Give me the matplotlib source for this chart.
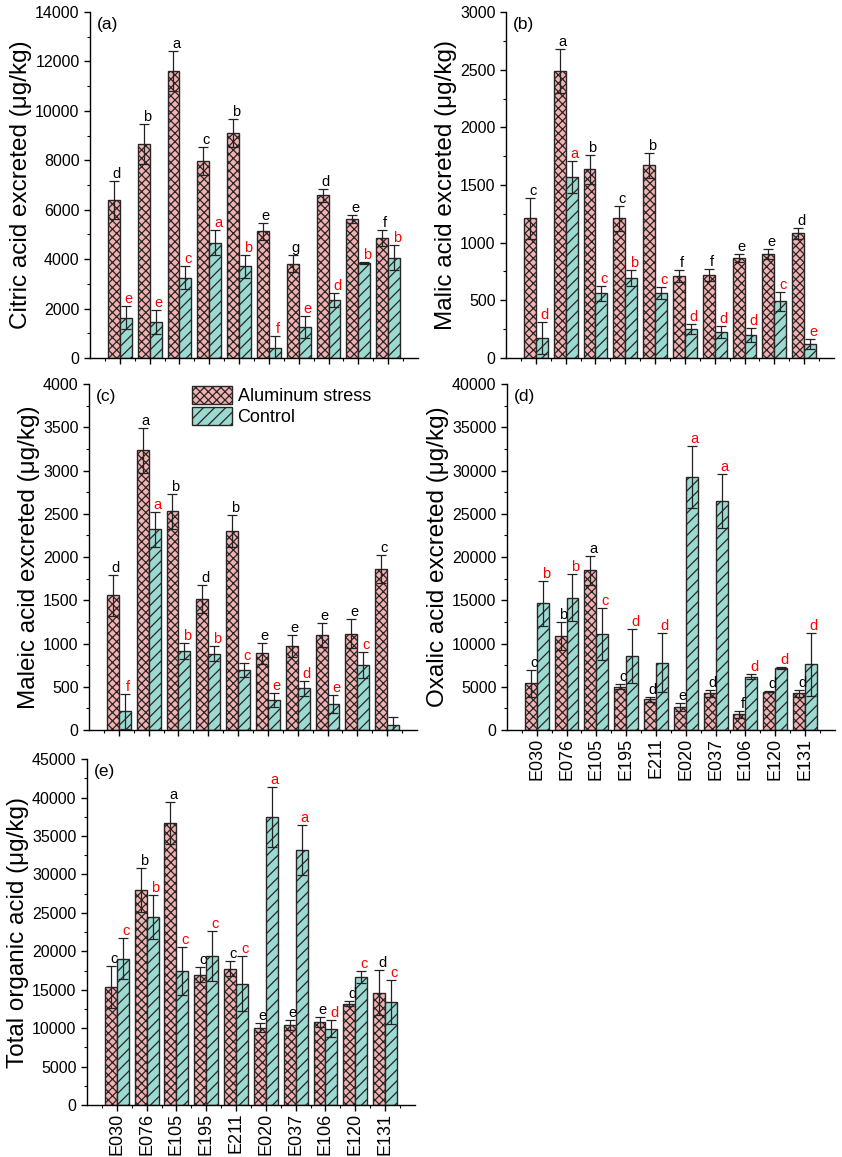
import numpy as np
import matplotlib
matplotlib.use("Agg")
import matplotlib.pyplot as plt
from matplotlib.ticker import MultipleLocator, FixedLocator

plt.rcParams['font.family'] = ['Liberation Sans', 'DejaVu Sans']
plt.rcParams['hatch.linewidth'] = 0.9
plt.rcParams['axes.linewidth'] = 1.0

genotypes = ["E030", "E076", "E105", "E195", "E211", "E020", "E037", "E106", "E120", "E131"]

# (a) citric acid
citric_al = [6410, 8670, 11610, 7970, 9120, 5120, 3820, 6580, 5610, 4870]
citric_al_err = [770, 800, 810, 570, 570, 340, 340, 270, 160, 320]
citric_al_let = ["d", "b", "a", "c", "b", "e", "g", "d", "e", "f"]
citric_ck = [1630, 1460, 3250, 4670, 3710, 400, 1250, 2360, 3840, 4060]
citric_ck_err = [470, 470, 470, 520, 470, 470, 430, 280, 40, 500]
citric_ck_let = ["e", "e", "c", "a", "b", "f", "e", "d", "b", "b"]

# (b) malic acid
malic_al = [1210, 2490, 1635, 1210, 1670, 713, 720, 870, 900, 1080]
malic_al_err = [175, 190, 125, 110, 110, 50, 50, 35, 45, 45]
malic_al_let = ["c", "a", "b", "c", "b", "f", "f", "e", "e", "d"]
malic_ck = [173, 1572, 563, 692, 563, 251, 225, 202, 490, 121]
malic_ck_err = [135, 140, 65, 70, 55, 45, 50, 60, 85, 45]
malic_ck_let = ["d", "a", "c", "b", "c", "d", "d", "d", "c", "e"]

# (c) maleic acid
maleic_al = [1557, 3237, 2528, 1518, 2301, 886, 971, 1095, 1114, 1865]
maleic_al_err = [240, 260, 200, 165, 180, 120, 125, 140, 165, 165]
maleic_al_let = ["d", "a", "b", "d", "b", "e", "e", "e", "e", "c"]
maleic_ck = [216, 2320, 917, 883, 698, 351, 482, 297, 748, 54]
maleic_ck_err = [205, 205, 95, 85, 80, 80, 90, 105, 150, 95]
maleic_ck_let = ["f", "a", "b", "b", "c", "e", "d", "e", "c", ""]

# (d) oxalic acid
oxalic_al = [5400, 10900, 18460, 5010, 3550, 2700, 4240, 1810, 4430, 4240]
oxalic_al_err = [1540, 1620, 1700, 300, 300, 460, 380, 420, 80, 380]
oxalic_al_let = ["c", "b", "a", "c", "d", "e", "d", "f", "d", "d"]
oxalic_ck = [14650, 15300, 11060, 8560, 7790, 29290, 26520, 6170, 7210, 7590]
oxalic_ck_err = [2620, 2740, 3000, 3120, 3390, 3580, 3120, 270, 100, 3660]
oxalic_ck_let = ["b", "b", "c", "d", "d", "a", "a", "d", "d", "d"]

# (e) total organic acid
total_al = [15360, 28000, 36690, 16960, 17740, 10080, 10470, 10820, 13200, 14630]
total_al_err = [2680, 2860, 2680, 1000, 1000, 600, 650, 650, 350, 2900]
total_al_let = ["c", "b", "a", "c", "c", "e", "e", "e", "d", "d"]
total_ck = [19040, 24450, 17440, 19390, 15790, 37430, 33230, 9950, 16660, 13410]
total_ck_err = [2680, 2900, 3110, 3250, 3590, 3900, 3250, 1080, 780, 2900]
total_ck_let = ["c", "b", "c", "c", "c", "a", "a", "d", "c", "c"]

pink = "#f0b2b2"
teal = "#9bdad1"
edge = "#2a2424"
wbar = 0.4

fig = plt.figure(figsize=(8.42, 11.57), dpi=100)

panels = [
    # left, bottom, ymax, ystep, label, tag, data..., show xlabels
    (0.1069, 0.6906, 14000, 2000, "Citric acid excreted (\u03bcg/kg)", "(a)",
     citric_al, citric_al_err, citric_al_let, citric_ck, citric_ck_err, citric_ck_let, False),
    (0.6010, 0.6906, 3000, 500, "Malic acid excreted (\u03bcg/kg)", "(b)",
     malic_al, malic_al_err, malic_al_let, malic_ck, malic_ck_err, malic_ck_let, False),
    (0.1057, 0.3690, 4000, 500, "Maleic acid excreted (\u03bcg/kg)", "(c)",
     maleic_al, maleic_al_err, maleic_al_let, maleic_ck, maleic_ck_err, maleic_ck_let, False),
    (0.6020, 0.3690, 40000, 5000, "Oxalic acid excreted (\u03bcg/kg)", "(d)",
     oxalic_al, oxalic_al_err, oxalic_al_let, oxalic_ck, oxalic_ck_err, oxalic_ck_let, True),
    (0.1033, 0.0449, 45000, 5000, "Total organic acid (\u03bcg/kg)", "(e)",
     total_al, total_al_err, total_al_let, total_ck, total_ck_err, total_ck_let, True),
]

x = np.arange(len(genotypes))

for (left, bottom, ymax, ystep, ylabel, tag, al, al_err, al_let, ck, ck_err, ck_let, showx) in panels:
    ax = fig.add_axes([left, bottom, 0.3895, 0.299])

    ax.bar(x - wbar/2, al, width=wbar, color=pink, edgecolor=edge, hatch="xxxx",
           linewidth=1.0, label="Aluminum stress", zorder=2)
    ax.bar(x + wbar/2, ck, width=wbar, color=teal, edgecolor=edge, hatch="///",
           linewidth=1.0, label="Control", zorder=2)
    ax.errorbar(x - wbar/2, al, yerr=al_err, fmt="none", ecolor="#222222",
                elinewidth=0.9, capsize=3.5, capthick=0.9, zorder=3)
    ax.errorbar(x + wbar/2, ck, yerr=ck_err, fmt="none", ecolor="#222222",
                elinewidth=0.9, capsize=3.5, capthick=0.9, zorder=3)

    # significance letters
    for i in range(len(x)):
        ax.text(x[i] - wbar/2 + 0.1, al[i] + al_err[i], al_let[i], ha="center", va="bottom",
                fontsize=10.5, color="black", zorder=4)
        ax.text(x[i] + wbar/2 + 0.1, ck[i] + ck_err[i], ck_let[i], ha="center", va="bottom",
                fontsize=10.5, color="red", zorder=4)

    ax.set_xlim(-1, len(x))
    ax.set_ylim(0, ymax)
    ax.yaxis.set_major_locator(MultipleLocator(ystep))
    ax.yaxis.set_minor_locator(MultipleLocator(ystep / 2))
    ax.xaxis.set_major_locator(FixedLocator(x))
    ax.xaxis.set_minor_locator(FixedLocator(np.arange(-0.5, len(x), 1.0)))

    ax.spines["top"].set_visible(False)
    ax.spines["right"].set_visible(False)
    ax.tick_params(axis="both", which="major", direction="out", length=4, width=1, labelsize=11.5)
    ax.tick_params(axis="both", which="minor", direction="out", length=2.5, width=0.8)
    ax.tick_params(axis="x", which="major", pad=1.5)

    if showx:
        ax.set_xticklabels(genotypes, rotation=90, fontsize=13)
    else:
        ax.set_xticklabels([])

    ax.set_ylabel(ylabel, fontsize=17.5, labelpad=2)
    ax.text(0.02, 0.985, tag, transform=ax.transAxes, ha="left", va="top", fontsize=12.5)

    if tag == "(c)":
        ax.legend(loc="upper left", bbox_to_anchor=(0.31, 1.0), frameon=False, fontsize=13,
                  handlelength=2.2, handleheight=1.15, labelspacing=0.1, handletextpad=0.3,
                  borderpad=0.1, borderaxespad=0)

fig.savefig("out.png", dpi=100)
